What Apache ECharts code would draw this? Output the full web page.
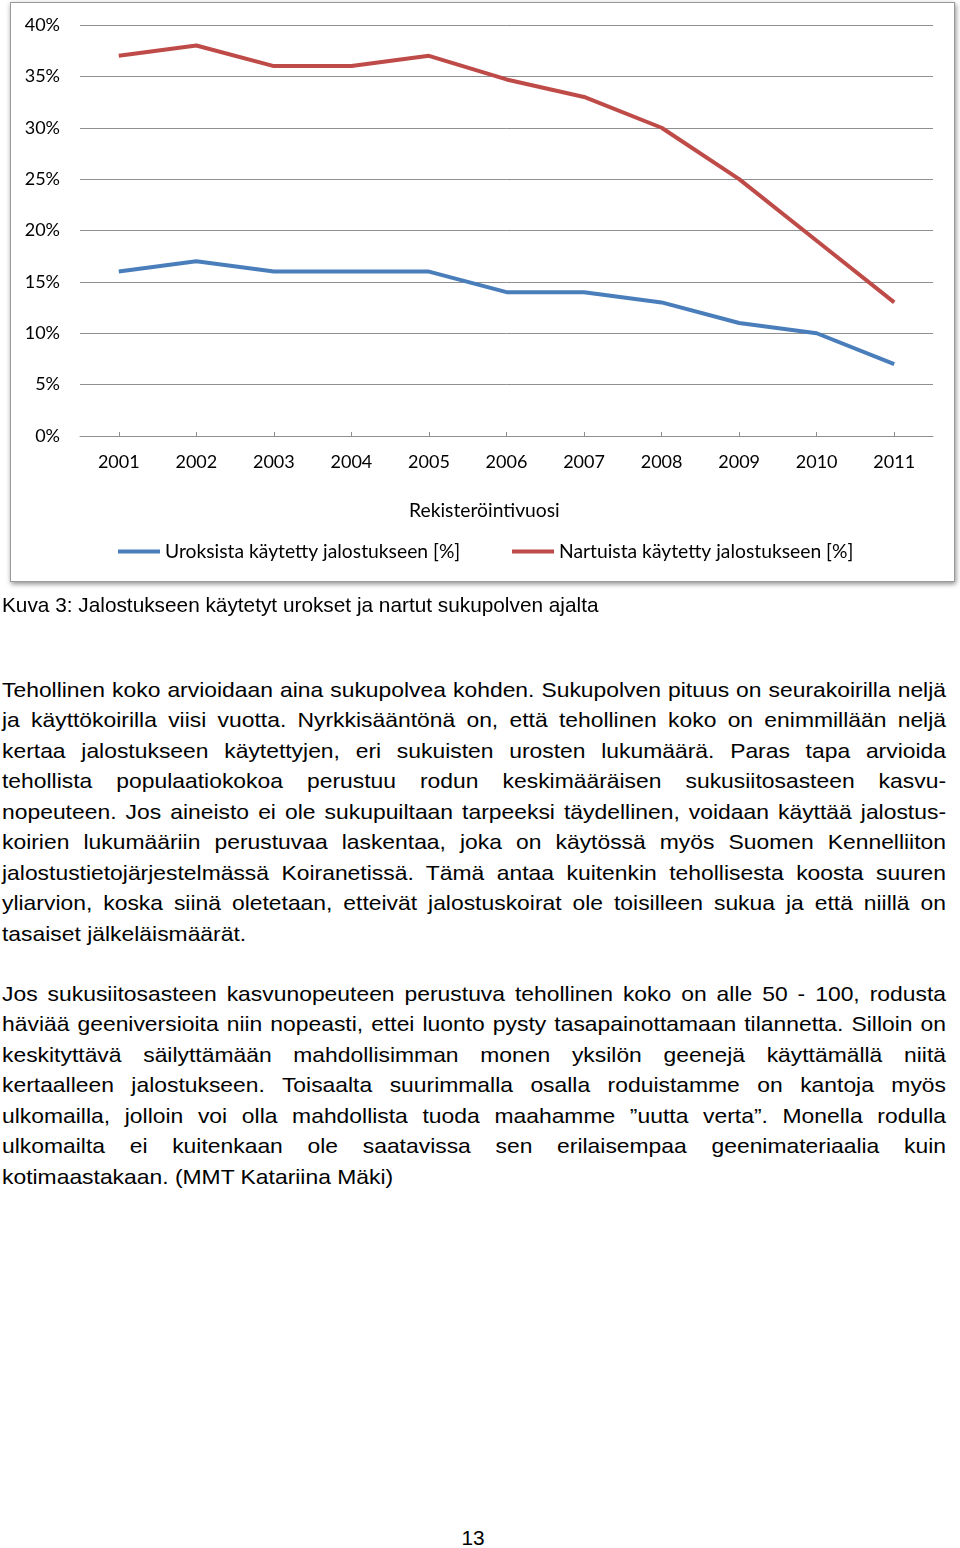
<!DOCTYPE html>
<html>
<head>
<meta charset="utf-8">
<script src="https://cdn.jsdelivr.net/npm/echarts@6/dist/echarts.min.js"></script>
<style>
  html, body { margin:0; padding:0; background:#fff; }
  body { width:960px; height:1548px; position:relative; overflow:hidden; font-family:"Liberation Sans", Arial, sans-serif; color:#000; }
  #box { position:absolute; left:10px; top:2px; width:943px; height:578px; border:1px solid #9a9a9a; box-shadow:1px 2px 5px rgba(0,0,0,0.45); background:#fff; }
  #chart { position:absolute; left:0; top:0; width:960px; height:600px; }
  .txt { position:absolute; left:2px; width:858.2px; font-size:20.8px; line-height:30.45px; transform:scaleX(1.1); transform-origin:0 0; }
  .j { text-align:justify; text-align-last:justify; white-space:nowrap; }
  .l { text-align:left; white-space:nowrap; }
  #caption { position:absolute; left:2px; top:590px; font-size:20.8px; line-height:30px; white-space:nowrap; }
  #pnum { position:absolute; left:0; width:946px; top:1523px; text-align:center; font-size:20.8px; line-height:30px; }
</style>
</head>
<body>
<div id="box"></div>
<div id="chart"></div>
<div id="caption">Kuva 3: Jalostukseen käytetyt urokset ja nartut sukupolven ajalta</div>
<div class="txt" style="top:675px">
  <div class="j">Tehollinen koko arvioidaan aina sukupolvea kohden. Sukupolven pituus on seurakoirilla neljä</div>
  <div class="j">ja käyttökoirilla viisi vuotta. Nyrkkisääntönä on, että tehollinen koko on enimmillään neljä</div>
  <div class="j">kertaa jalostukseen käytettyjen, eri sukuisten urosten lukumäärä. Paras tapa arvioida</div>
  <div class="j">tehollista populaatiokokoa perustuu rodun keskimääräisen sukusiitosasteen kasvu-</div>
  <div class="j">nopeuteen. Jos aineisto ei ole sukupuiltaan tarpeeksi täydellinen, voidaan käyttää jalostus-</div>
  <div class="j">koirien lukumääriin perustuvaa laskentaa, joka on käytössä myös Suomen Kennelliiton</div>
  <div class="j">jalostustietojärjestelmässä Koiranetissä. Tämä antaa kuitenkin tehollisesta koosta suuren</div>
  <div class="j">yliarvion, koska siinä oletetaan, etteivät jalostuskoirat ole toisilleen sukua ja että niillä on</div>
  <div class="l">tasaiset jälkeläismäärät.</div>
</div>
<div class="txt" style="top:979px">
  <div class="j">Jos sukusiitosasteen kasvunopeuteen perustuva tehollinen koko on alle 50 - 100, rodusta</div>
  <div class="j">häviää geeniversioita niin nopeasti, ettei luonto pysty tasapainottamaan tilannetta. Silloin on</div>
  <div class="j">keskityttävä säilyttämään mahdollisimman monen yksilön geenejä käyttämällä niitä</div>
  <div class="j">kertaalleen jalostukseen. Toisaalta suurimmalla osalla roduistamme on kantoja myös</div>
  <div class="j">ulkomailla, jolloin voi olla mahdollista tuoda maahamme ”uutta verta”. Monella rodulla</div>
  <div class="j">ulkomailta ei kuitenkaan ole saatavissa sen erilaisempaa geenimateriaalia kuin</div>
  <div class="l">kotimaastakaan. (MMT Katariina Mäki)</div>
</div>
<div id="pnum">13</div>
<script>
const years = ['2001','2002','2003','2004','2005','2006','2007','2008','2009','2010','2011'];
const maleName = 'Uroksista käytetty jalostukseen [%]';
const femaleName = 'Nartuista käytetty jalostukseen [%]';
const maleValues = [16, 17, 16, 16, 16, 14, 14, 13, 11, 10, 7];
const femaleValues = [37, 38, 36, 36, 37, 34.7, 33, 30, 25, 19, 13];
const xAxisTitle = 'Rekisteröintivuosi';

const FONT = 'Lato, "Open Sans", sans-serif';
const GRID = '#8f8f8f';
const chart = echarts.init(document.getElementById('chart'), null, {renderer:'canvas'});
chart.setOption({
  animation: false,
  backgroundColor: 'transparent',
  grid: { left: 80, right: 27, top: 25, height: 411 },
  xAxis: {
    type: 'category', data: years, boundaryGap: true,
    axisLine: { show: true, lineStyle: { color: GRID, width: 1 } },
    axisTick: { show: true, inside: true, alignWithLabel: true, length: 4, lineStyle: { color: GRID } },
    axisLabel: { margin: 17, fontSize: 18, color: '#000', fontFamily: FONT },
    splitLine: { show: false }
  },
  yAxis: {
    type: 'value', min: 0, max: 40, interval: 5,
    axisLine: { show: false }, axisTick: { show: false },
    axisLabel: { formatter: '{value}%', margin: 20, fontSize: 18, color: '#000', fontFamily: FONT },
    splitLine: { show: true, lineStyle: { color: GRID, width: 1 } }
  },
  legend: [
    { data: [maleName], left: 118, top: 542, padding: 0, icon: 'rect', itemWidth: 42, itemHeight: 4,
      textStyle: { fontSize: 19.3, color: '#000', fontFamily: FONT } },
    { data: [femaleName], left: 512, top: 542, padding: 0, icon: 'rect', itemWidth: 42, itemHeight: 4,
      textStyle: { fontSize: 19.3, color: '#000', fontFamily: FONT } }
  ],
  graphic: [
    { type: 'text', left: 409, top: 501, style: { text: xAxisTitle, fontSize: 19.3, fill: '#000', fontFamily: FONT } }
  ],
  series: [
    { name: maleName, type: 'line', data: maleValues, symbol: 'none', color: '#4A7EBB',
      lineStyle: { width: 4, color: '#4A7EBB' } },
    { name: femaleName, type: 'line', data: femaleValues, symbol: 'none', color: '#BE4B48',
      lineStyle: { width: 4, color: '#BE4B48' } }
  ]
});
</script>
</body>
</html>
